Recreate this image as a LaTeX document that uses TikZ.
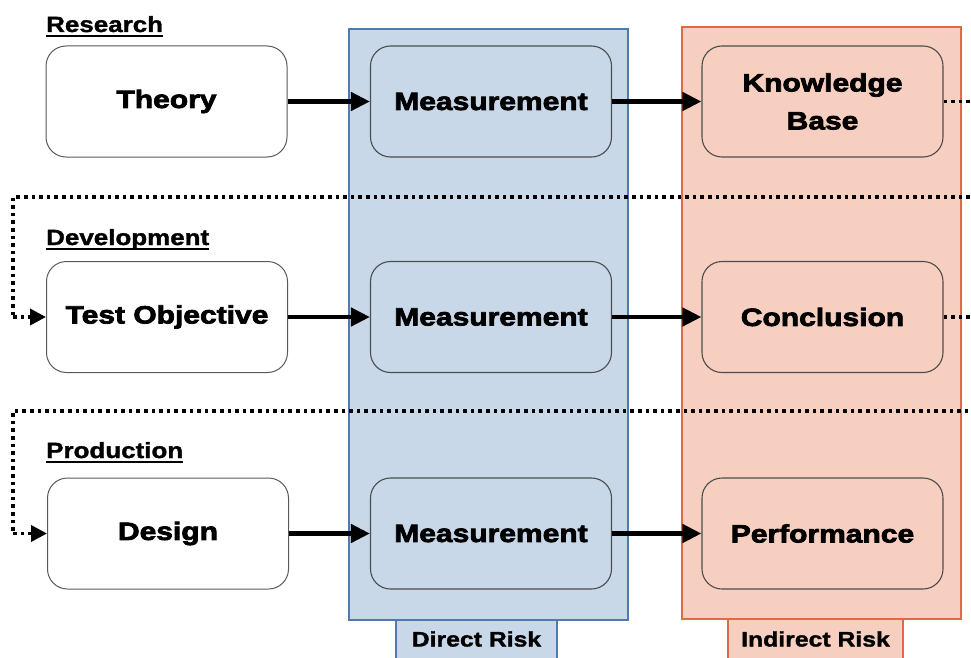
\documentclass[tikz,border=0pt]{standalone}
\usepackage{fontspec}
\setmainfont{Liberation Sans}
\newfontfamily\blk{Liberation Sans Bold}[FakeBold=3,FakeStretch=1.2]
\newfontfamily\lbl{Liberation Sans Bold}[FakeBold=1.5,FakeStretch=1.18]
\usetikzlibrary{arrows.meta}
\definecolor{bluefill}{RGB}{200,216,233}
\definecolor{blueedge}{RGB}{80,122,172}
\definecolor{redfill}{RGB}{246,207,192}
\definecolor{rededge}{RGB}{226,104,72}
\definecolor{boxedge}{RGB}{90,90,90}
\tikzset{
  stagebox/.style={draw=boxedge, line width=1pt, rounded corners=20pt, minimum width=241pt, minimum height=111pt, inner sep=0pt, align=center, font=\blk\fontsize{25}{38}\selectfont},
  whitebox/.style={stagebox, fill=white},
  colbox/.style={stagebox, draw=black!70, line width=1.1pt},
  phase/.style={anchor=base west, inner sep=0pt, font=\lbl\fontsize{22}{26}\selectfont},
  tabtext/.style={inner sep=0pt, font=\lbl\fontsize{21}{24}\selectfont},
  flow/.style={line width=4.5pt, -{Triangle[length=19pt,width=18pt]}},
  loop/.style={line width=3.6pt, dash pattern=on 3.6pt off 4pt},
  looparrow/.style={loop, -{Triangle[length=16pt,width=16pt,sep=0pt]}}
}
\begin{document}
\begin{tikzpicture}[x=1pt,y=-1pt]
\useasboundingbox (0,0) rectangle (971,658);
\clip (0,0) rectangle (971,658);
% columns
\draw[fill=bluefill, draw=blueedge, line width=1.2pt] (349,29) rectangle (628,620);
\draw[fill=bluefill, draw=blueedge, line width=1.2pt] (396,620) rectangle (557,665);
\draw[fill=redfill, draw=rededge, line width=1.2pt] (682,27) rectangle (961,619);
\draw[fill=redfill, draw=rededge, line width=1.2pt] (728,619) rectangle (903,665);
\node[tabtext] (dr) at (476.5,639) {Direct Risk};
\node[tabtext] (ir) at (815.5,639) {Indirect Risk};
% phase labels
\node[phase] (lr) at (46,32) {Research};
\draw[line width=2.8pt] ([yshift=-4pt]lr.base west) -- ([yshift=-4pt]lr.base east);
\node[phase] (ld) at (46,245) {Development};
\draw[line width=2.8pt] ([yshift=-4pt]ld.base west) -- ([yshift=-4pt]ld.base east);
\node[phase] (lp) at (46,458) {Production};
\draw[line width=2.8pt] ([yshift=-4pt]lp.base west) -- ([yshift=-4pt]lp.base east);
% boxes
\node[whitebox] (th) at (166.5,101.5) {Theory};
\node[colbox] (m1) at (491,101.5) {Measurement};
\node[colbox] (kb) at (822.5,101.5) {Knowledge\\Base};
\node[whitebox] (to) at (167,317) {Test Objective};
\node[colbox] (m2) at (491,317) {Measurement};
\node[colbox] (cc) at (822.5,317) {Conclusion};
\node[whitebox] (de) at (168,533.5) {Design};
\node[colbox] (m3) at (491,533.5) {Measurement};
\node[colbox] (pf) at (822.5,533.5) {Performance};
% loop-back connectors
\coordinate (r1) at (985,101.5);
\coordinate (r1b) at (985,197);
\coordinate (l1) at (13,197);
\draw[loop] (kb.east) -- (r1) -- (r1b) -- (l1) -- (l1 |- to.west);
\draw[looparrow] (l1 |- to.west) -- (to.west);
\coordinate (r2) at (985,317);
\coordinate (r2b) at (985,411);
\coordinate (l2) at (13,411);
\draw[loop] (cc.east) -- (r2) -- (r2b) -- (l2) -- (l2 |- de.west);
\draw[looparrow] (l2 |- de.west) -- (de.west);
% flow arrows
\draw[flow] (th) -- (m1);
\draw[flow] (m1) -- (kb);
\draw[flow] (to) -- (m2);
\draw[flow] (m2) -- (cc);
\draw[flow] (de) -- (m3);
\draw[flow] (m3) -- (pf);
\end{tikzpicture}
\end{document}
